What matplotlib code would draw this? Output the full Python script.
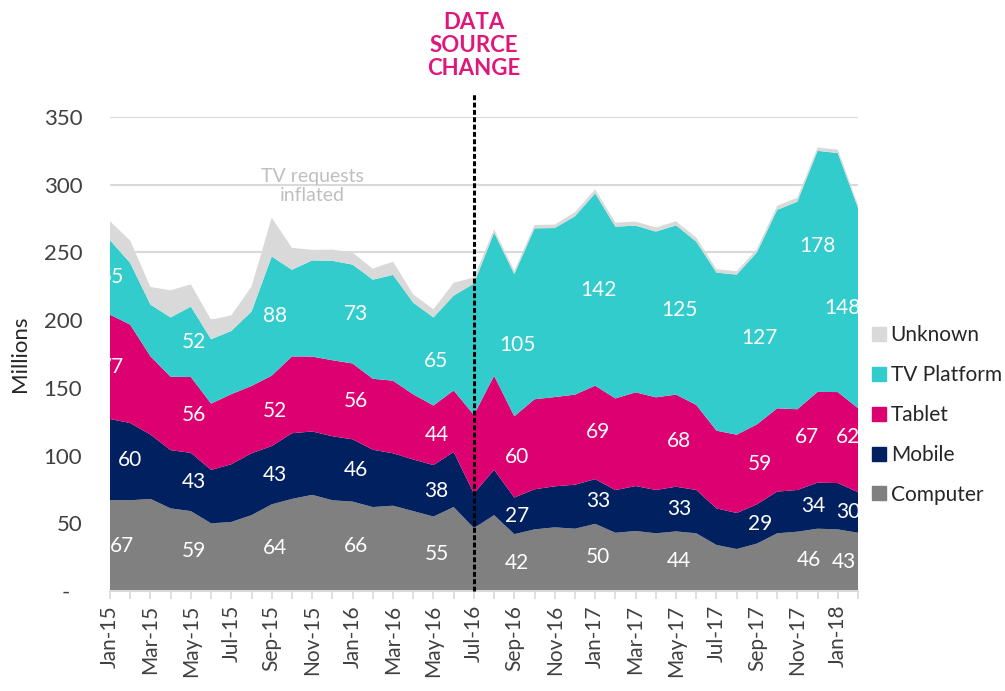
import matplotlib
matplotlib.use("Agg")
import matplotlib.pyplot as plt
from matplotlib.lines import Line2D
import numpy as np

plt.rcParams['font.family'] = ['Lato', 'DejaVu Sans']

# Donnees mensuelles (millions de requetes)
months = ["Jan-15", "Feb-15", "Mar-15", "Apr-15", "May-15", "Jun-15", "Jul-15", "Aug-15",
          "Sep-15", "Oct-15", "Nov-15", "Dec-15", "Jan-16", "Feb-16", "Mar-16", "Apr-16",
          "May-16", "Jun-16", "Jul-16", "Aug-16", "Sep-16", "Oct-16", "Nov-16", "Dec-16",
          "Jan-17", "Feb-17", "Mar-17", "Apr-17", "May-17", "Jun-17", "Jul-17", "Aug-17",
          "Sep-17", "Oct-17", "Nov-17", "Dec-17", "Jan-18", "Feb-18"]

computer = [67, 67, 68, 61, 59, 50, 51, 56, 64, 68, 71, 67, 66, 62, 63, 59, 55, 62, 46.5,
            56, 42, 45.5, 47, 46, 49.6, 43, 44.3, 42.6, 44, 42.6, 34, 31, 35, 42.6, 43.8,
            46, 45.5, 43]
mobile = [60, 57, 47.5, 43, 43, 39.4, 42.6, 45.7, 43, 48.5, 46.8, 47.3, 46, 42.3, 38.7,
          38.1, 38, 40.6, 25.5, 33.5, 27, 29.6, 30.3, 32.5, 33, 31.5, 33.2, 32, 33, 32, 27,
          26.6, 29, 30.8, 30.8, 34, 34.2, 30]
tablet = [77, 72.7, 57.8, 54.2, 56, 49, 51.7, 49.7, 52, 56.7, 55.3, 56.1, 56, 52.4, 53.6,
          48.1, 44, 45.5, 58, 69.4, 60, 66.5, 65.9, 66.5, 69, 67.7, 69.2, 68.4, 68, 62.8,
          57.4, 57.8, 59, 61.5, 59.6, 67, 67.2, 62]
tv_platform = [55, 45.5, 38.2, 43.8, 52, 47.5, 46.7, 54.9, 88, 64, 71, 73.4, 73, 73.2,
               78.1, 67.7, 65, 70, 97, 105.7, 105, 126.2, 124.8, 131.7, 142, 126.8, 123.1,
               122.4, 125, 120.6, 116.7, 118.2, 127, 146.5, 153.3, 178, 176.5, 148]
unknown = [14, 16.5, 13, 20, 16.5, 14.3, 11.6, 18.5, 28.8, 16.2, 7.8, 8.3, 8.9, 8.1, 9.8,
           6.1, 6, 9.5, 4.5, 2.5, 2.5, 2.5, 2.5, 3, 3, 3, 3, 3, 3, 3, 2.5, 2.5, 2.5, 3, 3,
           2.5, 2.5, 2]

series_names = ["Computer", "Mobile", "Tablet", "TV Platform", "Unknown"]
colors = ["#808080", "#002060", "#DD0070", "#33CCCC", "#D9D9D9"]
label_months = {
    "Computer": [0, 4, 8, 12, 16, 20, 24, 28, 35, 37],
    "Mobile": [0, 4, 8, 12, 16, 20, 24, 28, 32, 35, 37],
    "Tablet": [0, 4, 8, 12, 16, 20, 24, 28, 32, 35, 37],
    "TV Platform": [0, 4, 8, 12, 16, 20, 24, 28, 32, 35, 37],
}
# decalages manuels des etiquettes (comme dans le graphique d'origine)
dx = {("Computer", 0): 0.6, ("Mobile", 0): 1.0, ("Tablet", 0): 0.1, ("TV Platform", 0): 0.1,
      ("Computer", 35): -0.45, ("Mobile", 35): -0.2, ("Tablet", 35): -0.5, ("TV Platform", 35): 0.0,
      ("Computer", 37): -0.7, ("Mobile", 37): -0.5, ("Tablet", 37): -0.5, ("TV Platform", 37): -0.75}
dy = {("TV Platform", 35): 19, ("Tablet", 37): 10}

change_month = 18

x = np.arange(len(months))
data = np.array([computer, mobile, tablet, tv_platform, unknown])

fig = plt.figure(figsize=(10.05, 6.91), dpi=100)
ax = fig.add_axes([110/1005, 1-591/691, (858-110)/1005, (591-117)/691])

ax.stackplot(x, data, colors=colors, linewidth=0, zorder=2)

ax.set_xlim(0, len(months)-1)
ax.set_ylim(0, 350)
ax.set_axisbelow(True)
ax.yaxis.grid(True, color="#D9D9D9", lw=1.5)
ax.set_yticks(range(0, 351, 50))
ax.set_yticklabels(["-  "] + [str(v) for v in range(50, 351, 50)])
ax.tick_params(axis="y", length=0, pad=20, labelsize=16, labelcolor="#404040")

ax.set_xticks(x)
ax.set_xticklabels([m if i % 2 == 0 else "" for i, m in enumerate(months)], rotation=90)
ax.tick_params(axis="x", length=6, width=1.2, color="#D9D9D9", pad=4, labelsize=15,
               labelcolor="#404040")
for s in ["left", "top", "right"]:
    ax.spines[s].set_visible(False)
ax.spines["bottom"].set_color("#D9D9D9")
ax.spines["bottom"].set_linewidth(1.5)

ax.set_ylabel("Millions", fontsize=16, color="#262626", labelpad=10)

# etiquettes de valeurs
cum = np.cumsum(data, axis=0)
for k, name in enumerate(series_names[:4]):
    for m in label_months[name]:
        val = data[k][m]
        base = cum[k][m] - val
        xp = m + dx.get((name, m), 0.15)
        yp = base + val/2 + dy.get((name, m), 0)
        ax.text(xp, yp, f"{val:.0f}", color="white", fontsize=15, ha="center", va="center",
                clip_on=True, zorder=5)

# changement de source
ax.plot([change_month, change_month], [0, 368], color="black", lw=2.2,
        linestyle=(0, (1.6, 0.8)), clip_on=False, zorder=6)
ax.text(change_month, 378, "DATA\nSOURCE\nCHANGE", color="#E0177A", fontsize=16,
        fontweight="bold", ha="center", va="bottom", linespacing=1.12, clip_on=False)

ax.text(10, 299, "TV requests\ninflated", color="#BFBFBF", fontsize=14, ha="center",
        va="center", linespacing=1.15)

handles = [Line2D([], [], marker="s", ls="", color=c, markersize=10)
           for c in colors[::-1]]
fig.legend(handles, series_names[::-1], loc="center left",
           bbox_to_anchor=(850/1005, 1-415/691), frameon=False, fontsize=15,
           labelspacing=0.95, handletextpad=0.05, handlelength=1.0, labelcolor="#262626")

plt.savefig("out.png", dpi=100)
